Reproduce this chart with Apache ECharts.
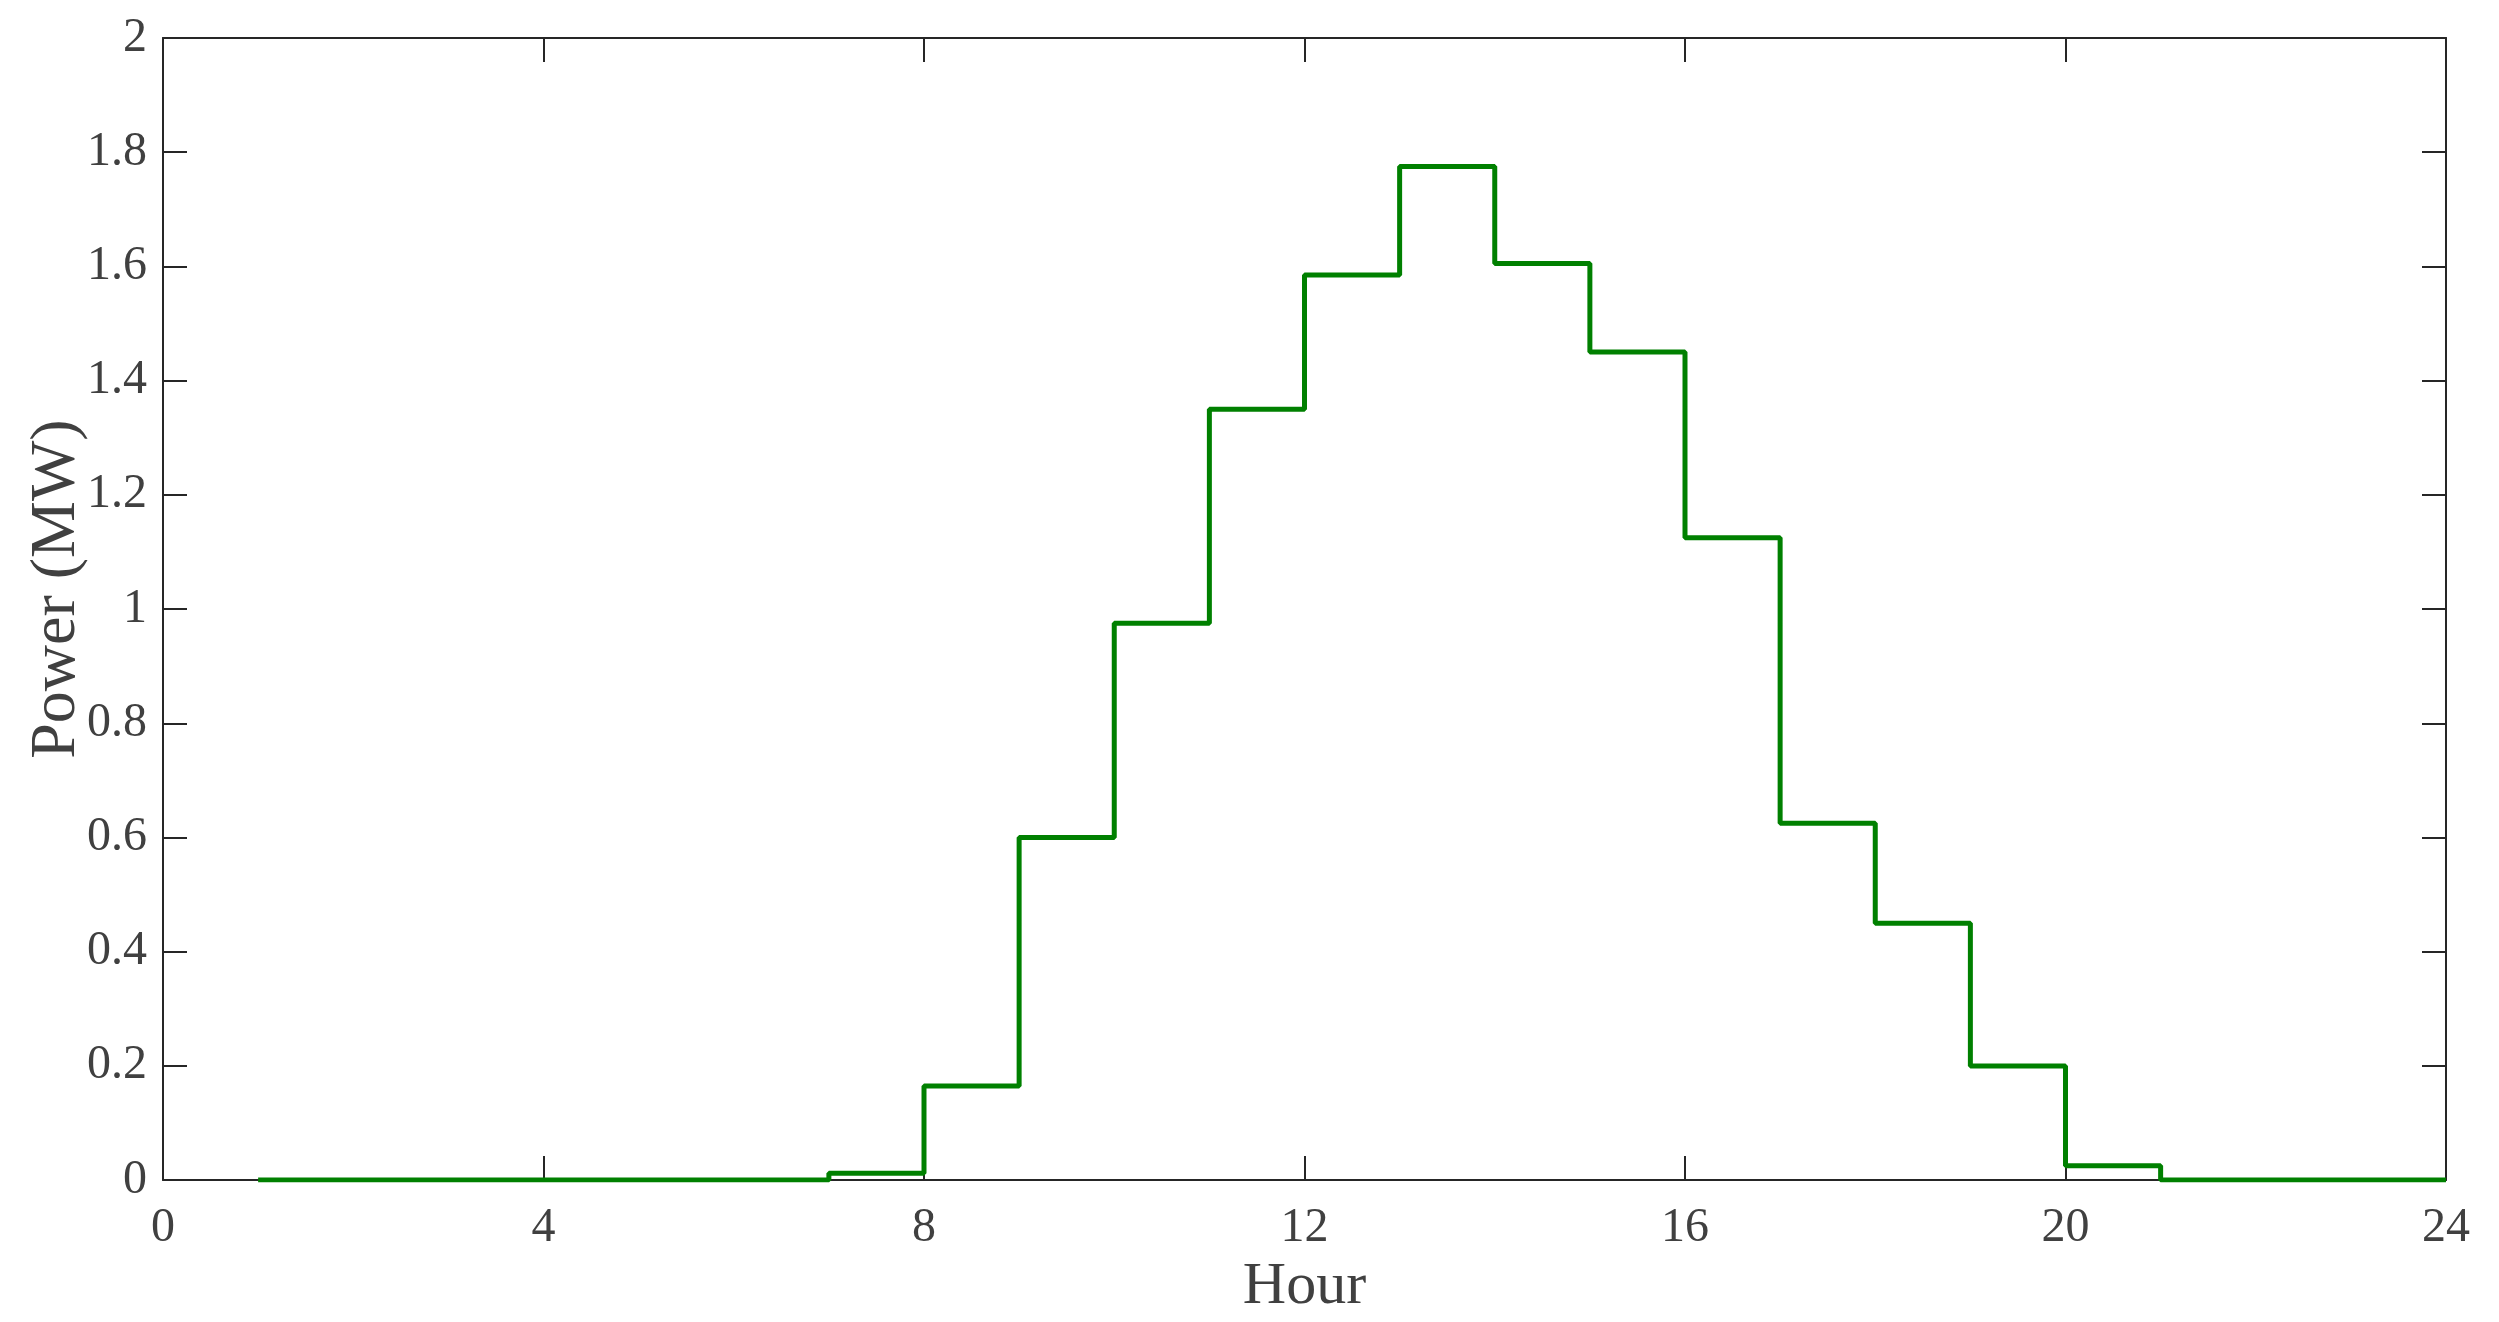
<!DOCTYPE html>
<html>
<head>
<meta charset="utf-8">
<script src="https://cdn.jsdelivr.net/npm/echarts@6/dist/echarts.min.js"></script>
<style>
html,body{margin:0;padding:0;background:#fff;}
#chart{width:2499px;height:1322px;}
</style>
</head>
<body>
<div id="chart"></div>
<script>
// Hour at which each step starts, and power (MW) held until the next hour
const hours = [1,2,3,4,5,6,7,8,9,10,11,12,13,14,15,16,17,18,19,20,21,22,23,24];
const power = [0,0,0,0,0,0,0.012,0.165,0.6,0.975,1.35,1.585,1.775,1.605,1.45,1.125,0.625,0.45,0.2,0.025,0,0,0,0];
const xTicks = [0,4,8,12,16,20,24];
const yTicks = [0,0.2,0.4,0.6,0.8,1,1.2,1.4,1.6,1.8,2];

const FONT = '"Liberation Serif", "DejaVu Serif", serif';
const AXIS = '#262626';
const LABEL = '#404040';

const chart = echarts.init(document.getElementById('chart'));
const axisCommon = {
  axisLine: {show: true, onZero: false, lineStyle: {color: AXIS, width: 2}},
  axisTick: {show: true, inside: true, length: 24, lineStyle: {color: AXIS, width: 2}},
  splitLine: {show: false}
};
chart.setOption({
  animation: false,
  backgroundColor: '#fff',
  grid: {left: 163, right: 53, top: 38, bottom: 139, containLabel: false},
  xAxis: [
    Object.assign({
      type: 'value', min: xTicks[0], max: xTicks[xTicks.length-1], interval: 4,
      position: 'bottom',
      name: 'Hour', nameLocation: 'middle', nameGap: 76,
      nameTextStyle: {fontFamily: FONT, fontSize: 60, color: LABEL},
      axisLabel: {fontFamily: FONT, fontSize: 48, color: LABEL, margin: 24,
        formatter: v => String(v)}
    }, axisCommon),
    Object.assign({
      type: 'value', min: xTicks[0], max: xTicks[xTicks.length-1], interval: 4,
      position: 'top', axisLabel: {show: false}
    }, axisCommon)
  ],
  yAxis: [
    Object.assign({
      type: 'value', min: yTicks[0], max: yTicks[yTicks.length-1], interval: 0.2,
      position: 'left',
      name: 'Power (MW)', nameLocation: 'middle', nameGap: 74,
      nameMoveOverlap: false,
      nameTextStyle: {fontFamily: FONT, fontSize: 64, color: LABEL, padding: [0, 0, 0, 40]},
      axisLabel: {fontFamily: FONT, fontSize: 48, color: LABEL, margin: 16,
        formatter: v => String(+v.toFixed(1))}
    }, axisCommon),
    Object.assign({
      type: 'value', min: yTicks[0], max: yTicks[yTicks.length-1], interval: 0.2,
      position: 'right', axisLabel: {show: false}
    }, axisCommon)
  ],
  series: [{
    type: 'line',
    step: 'end',
    xAxisIndex: 0, yAxisIndex: 0,
    data: hours.map((h, i) => [h, power[i]]),
    showSymbol: false,
    symbol: 'none',
    lineStyle: {color: '#008000', width: 5},
    z: 1
  }]
});
</script>
</body>
</html>
